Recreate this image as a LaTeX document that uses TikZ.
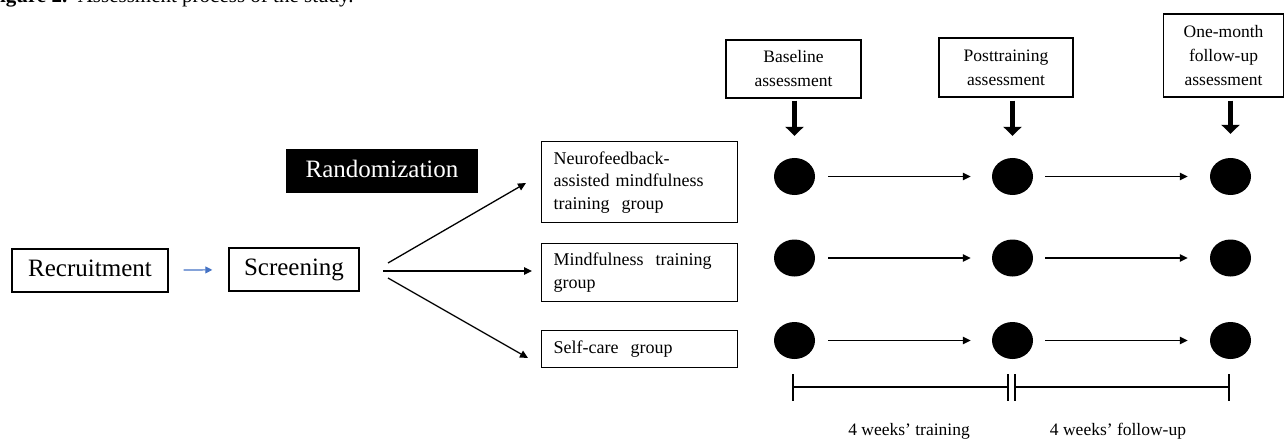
\documentclass[tikz,border=0pt]{standalone}
\usepackage{fontspec}
\setmainfont{Liberation Serif}
\usetikzlibrary{arrows.meta,shapes.geometric}
\definecolor{arrowblue}{RGB}{68,114,196}
\tikzset{
  box/.style={draw=black, line width=1.4pt, inner sep=0pt, align=center},
  bigtext/.style={font=\fontsize{25}{28}\selectfont, text height=17pt, text depth=5pt},
  smalltext/.style={font=\fontsize{17.5}{24}\selectfont},
  grouptext/.style={font=\fontsize{18}{22.5}\selectfont},
  dot/.style={ellipse, fill=black, minimum width=41pt, minimum height=37pt, inner sep=0pt},
  thinarrow/.style={line width=1.3pt, -{Triangle[length=8pt,width=7.5pt]}},
  bigarrow/.style={line width=5pt, -{Triangle[length=9pt,width=18pt]}},
  barline/.style={line width=1.3pt}
}
\begin{document}
\begin{tikzpicture}[x=1pt,y=-1pt]
\useasboundingbox (0,0) rectangle (1285,441);
% caption (cut at top edge)
\begin{scope}
\clip (0,0) rectangle (1285,441);
\node[anchor=base west, inner sep=0pt, font=\fontsize{21}{24}\selectfont] (cap) at (-13,2.5) {\textbf{Figure 2.}\ \ Assessment process of the study.};
\end{scope}
% left chain
\node[box, bigtext, minimum width=156pt, minimum height=43pt] (rec) at (90,270.5) {Recruitment};
\node[box, bigtext, minimum width=130pt, minimum height=43pt] (scr) at (294,269.5) {Screening};
\draw[line width=1.1pt, arrowblue, -{Triangle[length=7pt,width=7pt]}, shorten <=15pt, shorten >=16pt] (rec) -- (scr);
\node[fill=black, text=white, bigtext, minimum width=192pt, minimum height=44pt, inner sep=0pt] (rand) at (382,171) {Randomization};
% group boxes
\node[box, grouptext, align=left, anchor=north west, text width=172pt, minimum width=196pt, minimum height=81pt, inner xsep=12pt] (g1) at (541,141) {Neurofeedback-\\assisted mindfulness\\training\ \ group};
\node[box, grouptext, align=left, anchor=north west, text width=172pt, minimum width=196pt, minimum height=58pt, inner xsep=12pt] (g2) at (541,243) {Mindfulness\ \ training\\group};
\node[box, grouptext, align=left, anchor=north west, text width=172pt, minimum width=196pt, minimum height=37pt, inner xsep=12pt] (g3) at (541,330) {Self-care\ \ group};
% fan arrows
\coordinate (f1s) at (388,263);
\coordinate (f2s) at (383,271);
\coordinate (f3s) at (388,278);
\coordinate (f1e) at (526,183);
\coordinate (f2e) at (532,271);
\coordinate (f3e) at (528,358);
\draw[thinarrow] (f1s) -- (f1e);
\draw[thinarrow] (f2s) -- (f2e);
\draw[thinarrow] (f3s) -- (f3e);
% assessment boxes
\node[box, smalltext, minimum width=135pt, minimum height=58pt] (ba) at (793.5,69) {Baseline\\assessment};
\node[box, smalltext, minimum width=134pt, minimum height=59pt] (pa) at (1006,67.5) {Posttraining\\assessment};
\node[box, smalltext, minimum width=120pt, minimum height=83pt] (fa) at (1223.5,55.5) {One-month\\follow-up\\assessment};
% dots
\foreach \r/\y in {1/176.5, 2/258, 3/340.5} {
  \node[dot] (a\r) at (794.5,\y) {};
  \node[dot] (b\r) at (1012.5,\y) {};
  \node[dot] (c\r) at (1230.5,\y) {};
  \draw[thinarrow, shorten <=13pt, shorten >=21pt] (a\r) -- (b\r);
  \draw[thinarrow, shorten <=12pt, shorten >=22pt] (b\r) -- (c\r);
}
% big down arrows
\draw[bigarrow, shorten <=2pt, shorten >=22pt] (ba.south -| a1) -- (a1.north);
\draw[bigarrow, shorten <=3pt, shorten >=22pt] (pa.south -| b1) -- (b1.north);
\draw[bigarrow, shorten <=3pt, shorten >=24pt] (fa.south -| c1) -- (c1.north);
% timeline bar
\coordinate (t0) at (793,387);
\coordinate (t1) at (1008,387);
\coordinate (t2) at (1015,387);
\coordinate (t3) at (1229,387);
\draw[barline] (t0) -- (t1);
\draw[barline] (t2) -- (t3);
\foreach \t in {t0,t1,t2,t3} {
  \draw[barline] ([yshift=-13.5pt]\t) -- ([yshift=13.5pt]\t);
}
\node[smalltext, inner sep=0pt] (lt) at (909,431) {4 weeks’ training};
\node[smalltext, inner sep=0pt] (lf) at (1118,431) {4 weeks’ follow-up};
\end{tikzpicture}
\end{document}
